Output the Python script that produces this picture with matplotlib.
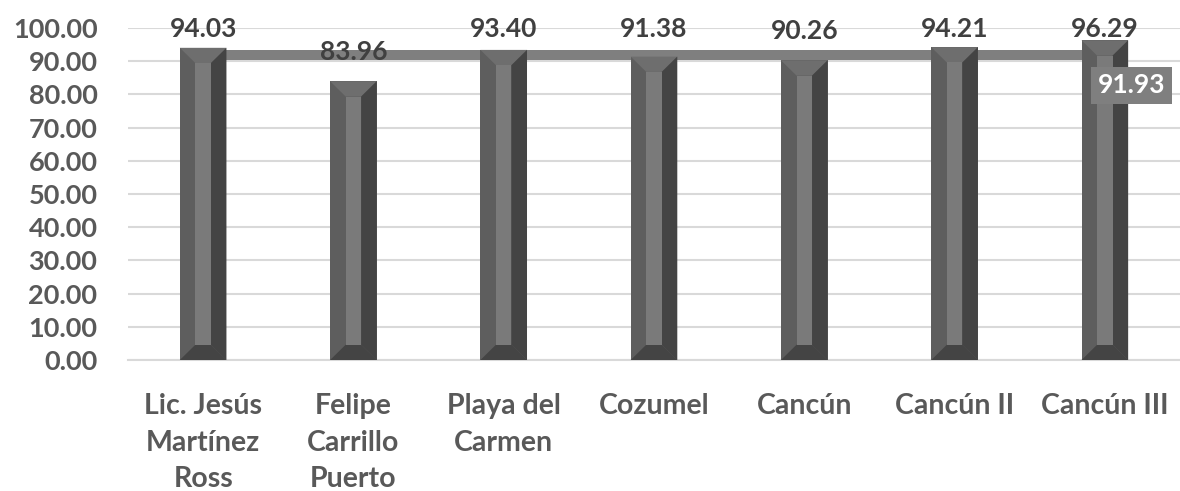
import matplotlib
matplotlib.use("Agg")
import matplotlib.pyplot as plt
import numpy as np

# datos
categorias = ["Lic. Jesús\nMartínez\nRoss", "Felipe\nCarrillo\nPuerto", "Playa del\nCarmen",
              "Cozumel", "Cancún", "Cancún II", "Cancún III"]
valores = [94.03, 83.96, 93.40, 91.38, 90.26, 94.21, 96.29]
promedio = 91.93
yticks = [0, 10, 20, 30, 40, 50, 60, 70, 80, 90, 100]

plt.rcParams['font.family'] = ['Lato', 'DejaVu Sans']
plt.rcParams['font.weight'] = 'bold'

fig = plt.figure(figsize=(11.8, 4.91), dpi=100)
ax = fig.add_axes([128/1180, 1 - 360/491, 1 - 128/1180, (360 - 28)/491])

x = np.arange(len(valores))
ancho = 0.31
bx = ancho / 3
by = 4.6

# linea del promedio (detras de las barras)
ax.plot([x[0], x[-1]], [promedio, promedio], color='#7f7f7f', lw=7.2,
        solid_capstyle='butt', zorder=2)

# barras con bisel
barras = ax.bar(x, valores, width=ancho, color='#5e5e5e', zorder=3)
for b in barras:
    x0 = b.get_x()
    x1 = x0 + b.get_width()
    h = b.get_height()
    ax.fill([x0, x1, x1 - bx, x0 + bx], [h, h, h - by, h - by], color='#6e6e6e', zorder=4, lw=0)
    ax.fill([x1, x1, x1 - bx, x1 - bx], [h, 0, by, h - by], color='#444444', zorder=4, lw=0)
    ax.fill([x0, x1, x1 - bx, x0 + bx], [0, 0, by, by], color='#444444', zorder=4, lw=0)
    ax.fill([x0 + bx, x1 - bx, x1 - bx, x0 + bx], [by, by, h - by, h - by], color='#7a7a7a',
            zorder=4, lw=0)

# etiquetas de valores
for xi, v in zip(x, valores):
    ax.text(xi, min(v + 6.3, 97.4), f"{v:.2f}", ha='center', va='baseline',
            fontsize=19, fontweight='bold', color='#404040', zorder=6, clip_on=False)

ax.annotate(f"{promedio:.2f}", (x[-1], promedio), xytext=(19, -22), textcoords='offset points',
            ha='center', va='center', fontsize=19, fontweight='bold', color='white',
            bbox=dict(boxstyle='square,pad=0.25', fc='#7f7f7f', ec='none'), zorder=7,
            annotation_clip=False)

ax.set_xlim(-0.5, len(valores) - 0.5)
ax.set_ylim(0, 100)
ax.set_yticks(yticks)
ax.set_yticklabels([f"{t:.2f}" for t in yticks])
ax.set_xticks(x)
ax.set_xticklabels(categorias, linespacing=1.5)
ax.tick_params(axis='y', length=0, pad=22, labelsize=19.5, labelcolor='#595959')
ax.tick_params(axis='x', length=0, pad=24, labelsize=20.5, labelcolor='#595959')
for t in ax.get_xticklabels() + ax.get_yticklabels():
    t.set_fontweight('bold')

ax.grid(axis='y', color='#d9d9d9', lw=1.5, zorder=0)
ax.set_axisbelow(True)
for s in ['top', 'right', 'left']:
    ax.spines[s].set_visible(False)
ax.spines['bottom'].set_color('#d9d9d9')
ax.spines['bottom'].set_linewidth(1.5)

fig.savefig('out.png', dpi=100)
